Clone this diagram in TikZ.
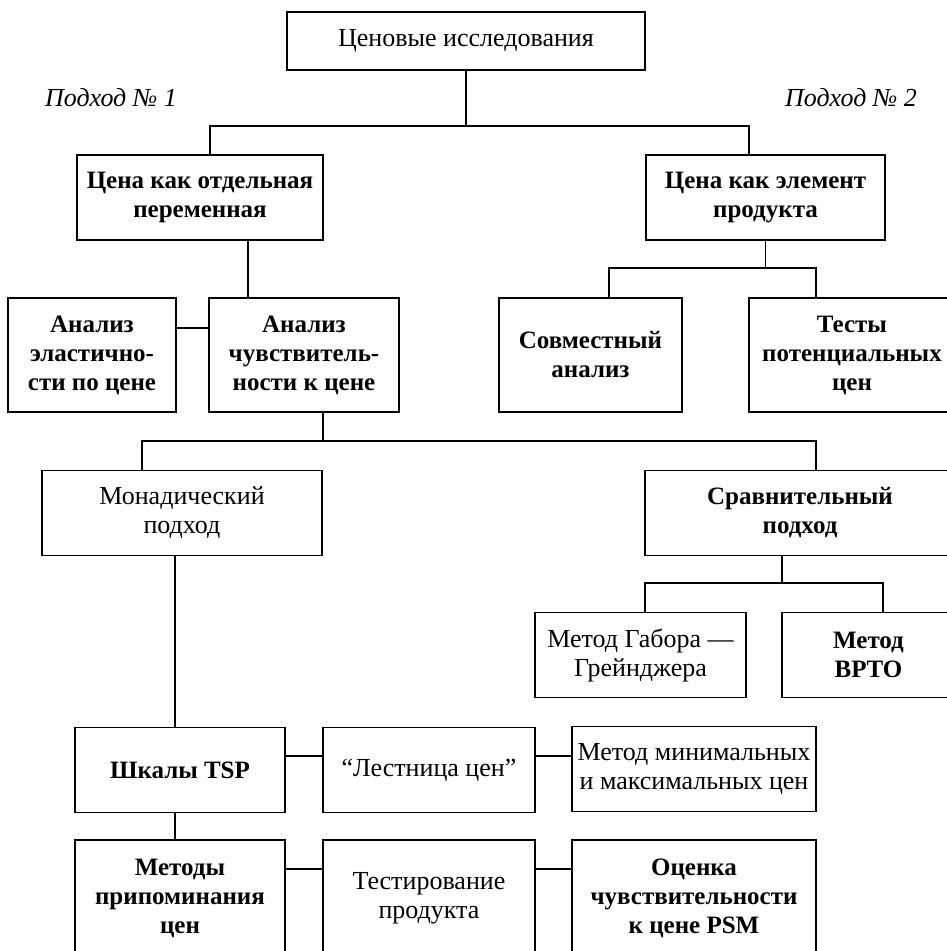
\documentclass[tikz,border=0pt]{standalone}
\usepackage{fontspec}
\setmainfont{Liberation Serif}
\begin{document}
\begin{tikzpicture}[x=1pt,y=-1pt,
  box/.style={draw, line width=1.6pt, align=center, inner sep=0pt},
  bbox/.style={box, font=\bfseries\fontsize{25}{29}\selectfont},
  rbox/.style={box, font=\fontsize{26}{29}\selectfont},
  link/.style={line width=1.6pt},
  tag/.style={font=\itshape\fontsize{26}{29}\selectfont, inner sep=0pt}]
\useasboundingbox (0,0) rectangle (947,951);
\clip (0,0) rectangle (947,951);
\fill[white] (0,0) rectangle (947,951);

% level 0
\node[rbox, minimum width=358pt, minimum height=58pt] (top) at (466,41) {Ценовые исследования};
\node[tag] (ap1) at (111,98) {Подход № 1};
\node[tag] (ap2) at (851,98) {Подход № 2};

% level 1
\node[bbox, minimum width=246pt, minimum height=85pt] (cenaL) at (200,197.5) {Цена как отдельная\\переменная};
\node[bbox, minimum width=239pt, minimum height=85pt] (cenaR) at (765.5,197.5) {Цена как элемент\\продукта};

% level 2
\node[bbox, minimum width=168pt, minimum height=114pt] (elast) at (92,355) {Анализ\\эластично-\\сти по цене};
\node[bbox, minimum width=190pt, minimum height=114pt] (sens) at (304,355) {Анализ\\чувствитель-\\ности к цене};
\node[bbox, minimum width=183pt, minimum height=114pt] (sovm) at (590.5,355) {Совместный\\анализ};
\node[bbox, minimum width=206pt, minimum height=114pt] (tests) at (852,355) {Тесты\\потенциальных\\цен};

% level 3
\node[rbox, minimum width=280pt, minimum height=85pt] (mon) at (182,513) {Монадический\\подход};
\node[bbox, minimum width=310pt, minimum height=85pt] (srav) at (800,513) {Сравнительный\\подход};

% level 4
\node[rbox, minimum width=211pt, minimum height=85pt] (gabor) at (640.5,655) {Метод Габора —\\Грейнджера};
\node[bbox, minimum width=173pt, minimum height=85pt] (bpto) at (868.5,655) {Метод\\BPTO};

% level 5
\node[bbox, minimum width=210pt, minimum height=85pt] (tsp) at (180,770) {Шкалы TSP};
\node[rbox, minimum width=212pt, minimum height=85pt] (ladder) at (429,770) {“Лестница цен”};
\node[rbox, minimum width=244pt, minimum height=85pt] (minmax) at (694,769) {Метод минимальных\\и максимальных цен};

% level 6
\node[bbox, minimum width=210pt, minimum height=116pt] (recall) at (180,898) {Методы\\припоминания\\цен};
\node[rbox, minimum width=212pt, minimum height=116pt] (prodtest) at (429,898) {Тестирование\\продукта};
\node[bbox, minimum width=244pt, minimum height=116pt] (psm) at (694,898) {Оценка\\чувствительности\\к цене PSM};

% junction points of the bracket connectors
\coordinate (b1L) at (210,126);
\coordinate (b1R) at (749,126);
\coordinate (v2) at (248,0);
\coordinate (b2L) at (609,268);
\coordinate (b2R) at (816,268);
\coordinate (h2) at (0,328);
\coordinate (b3L) at (142,441);
\coordinate (b3R) at (816,441);
\coordinate (v3) at (323,0);
\coordinate (b4L) at (645,583);
\coordinate (b4R) at (883,583);
\coordinate (v4) at (782,0);
\coordinate (v5) at (175,0);
\coordinate (h5) at (0,756);
\coordinate (h6) at (0,869);

% connectors
\draw[link] (top.south) -- (top.south |- b1L);
\draw[link] (cenaL.north -| b1L) -- (b1L) -- (b1R) -- (cenaR.north -| b1R);

\draw[link] (cenaL.south -| v2) -- (sens.north -| v2);
\draw[link] (elast.east |- h2) -- (sens.west |- h2);

\draw[link] (cenaR.south) -- (cenaR.south |- b2L);
\draw[link] (sovm.north -| b2L) -- (b2L) -- (b2R) -- (tests.north -| b2R);

\draw[link] (sens.south -| v3) -- (v3 |- b3L);
\draw[link] (mon.north -| b3L) -- (b3L) -- (b3R) -- (srav.north -| b3R);

\draw[link] (srav.south -| v4) -- (v4 |- b4L);
\draw[link] (gabor.north -| b4L) -- (b4L) -- (b4R) -- (bpto.north -| b4R);

\draw[link] (mon.south -| v5) -- (tsp.north -| v5);
\draw[link] (tsp.east |- h5) -- (ladder.west |- h5);
\draw[link] (ladder.east |- h5) -- (minmax.west |- h5);

\draw[link] (tsp.south -| v5) -- (recall.north -| v5);
\draw[link] (recall.east |- h6) -- (prodtest.west |- h6);
\draw[link] (prodtest.east |- h6) -- (psm.west |- h6);
\end{tikzpicture}
\end{document}
